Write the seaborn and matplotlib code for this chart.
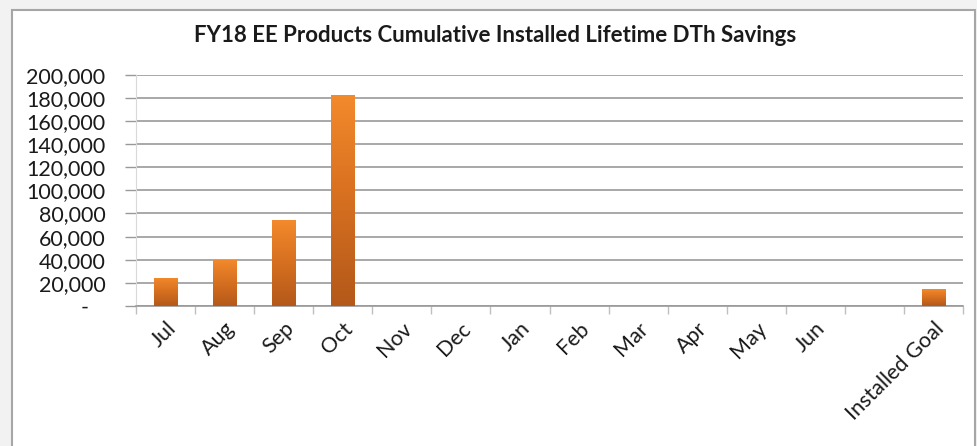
import matplotlib
matplotlib.use("Agg")
import matplotlib.pyplot as plt
import matplotlib.transforms as mtransforms
import seaborn as sns
import pandas as pd
import numpy as np
from matplotlib.patches import Rectangle
from matplotlib.ticker import FuncFormatter

# values
categories = ["Jul", "Aug", "Sep", "Oct", "Nov", "Dec", "Jan", "Feb",
              "Mar", "Apr", "May", "Jun", " ", "Installed Goal"]
savings = [24500, 40000, 74000, 182700, 0, 0, 0, 0,
           0, 0, 0, 0, 0, 14500]
title = "FY18 EE Products Cumulative Installed Lifetime DTh Savings"

sns.set_style("white")
plt.rcParams["font.family"] = ["Lato", "DejaVu Sans"]

df = pd.DataFrame({"month": categories, "dth": savings})

fig = plt.figure(figsize=(9.78, 4.46), dpi=100, facecolor="#f2f2f2")
# chart frame
fig.patches.append(Rectangle((12 / 978, -0.02), 963 / 978, 1.02 - 10 / 446,
                             transform=fig.transFigure, facecolor="white",
                             edgecolor="#a6a6a6", linewidth=1.5, zorder=-10))
ax = fig.add_axes([136 / 978, 1 - 306 / 446, 827 / 978, (306 - 74.7) / 446])
ax.set_facecolor("none")

sns.barplot(data=df, x="month", y="dth", order=categories, color="#e87d26",
            width=0.4, ax=ax, zorder=3)

# vertical orange gradient on each bar
grad = np.linspace(0, 1, 256).reshape(-1, 1)
cmap = matplotlib.colors.LinearSegmentedColormap.from_list(
    "bar", ["#b3591a", "#d66f20", "#f38a2c"])
for p in ax.patches:
    h = p.get_height()
    if h <= 0:
        p.set_visible(False)
        continue
    x0 = p.get_x()
    w = p.get_width()
    im = ax.imshow(grad, cmap=cmap, aspect="auto", origin="lower",
                   extent=[x0, x0 + w, 0, h], zorder=3)
    im.set_clip_path(p)
    p.set_facecolor("none")
    p.set_edgecolor("none")

ax.set_xlim(-0.5, len(categories) - 0.5)
ax.set_ylim(0, 200000)
ax.set_yticks(np.arange(0, 200001, 20000))
ax.yaxis.set_major_formatter(FuncFormatter(lambda v, _: "-   " if v == 0 else f"{int(v):,}"))
ax.yaxis.grid(True, color="#999999", linewidth=1.2, zorder=1)
ax.set_axisbelow(True)

ax.set_xticks(np.arange(len(categories)))
ax.set_xticklabels(categories, rotation=45, ha="right", va="center",
                   rotation_mode="anchor")
ax.set_xticks(np.arange(-0.5, len(categories)), minor=True)
ax.tick_params(axis="x", which="major", length=0, pad=14, labelsize=15.5,
               labelcolor="#1a1a1a")
ax.tick_params(axis="x", which="minor", length=6, width=1, color="#bfbfbf",
               direction="out", bottom=True)
ax.tick_params(axis="y", length=8, width=1, color="#999999", direction="out",
               left=True, pad=14, labelsize=15.5, labelcolor="#1a1a1a")
shift = mtransforms.ScaledTranslation(7 / 100, 0, fig.dpi_scale_trans)
for lbl in ax.get_xticklabels():
    lbl.set_transform(lbl.get_transform() + shift)

for s in ["top", "right"]:
    ax.spines[s].set_visible(False)
ax.spines["left"].set_color("#d9d9d9")
ax.spines["bottom"].set_color("#999999")
ax.spines["bottom"].set_linewidth(1.2)
ax.set_xlabel("")
ax.set_ylabel("")

fig.text(495 / 978, 1 - 36 / 446, title, ha="center", va="center",
         fontsize=16, fontweight="bold", color="#1a1a1a")

fig.savefig("out.png", dpi=100, facecolor=fig.get_facecolor())
